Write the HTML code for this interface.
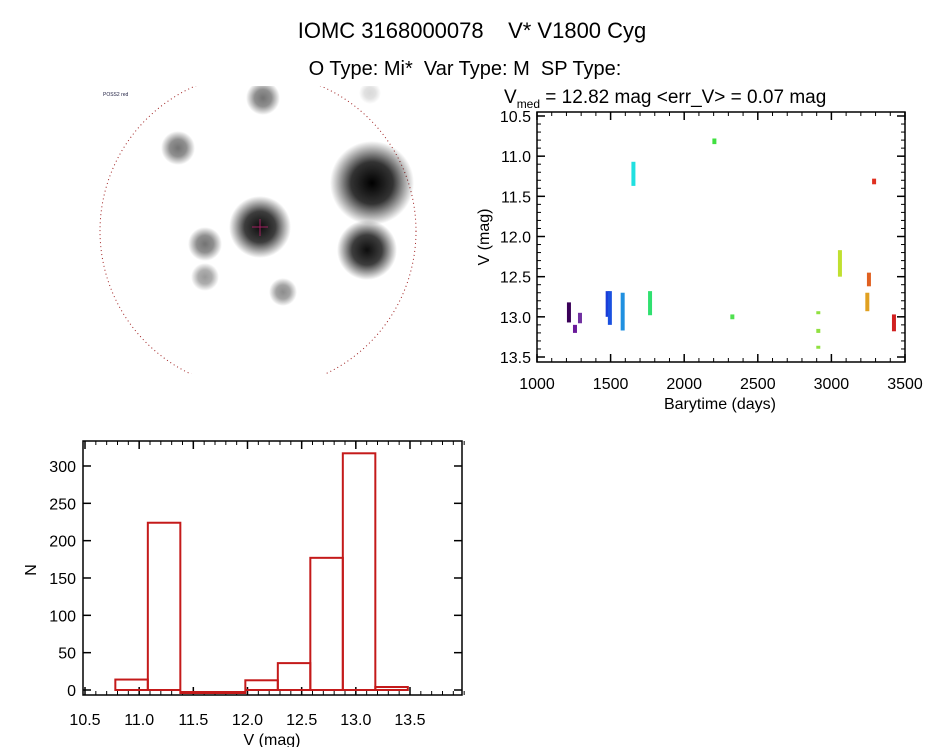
<!DOCTYPE html>
<html><head><meta charset="utf-8"><style>
html,body{margin:0;padding:0;background:#fff;}
svg{display:block;font-family:"Liberation Sans",sans-serif;}
</style></head><body>
<svg id="root" width="944" height="747" viewBox="0 0 944 747">
<defs>
<radialGradient id="blob"><stop offset="0" stop-color="#000" stop-opacity="1"/><stop offset="0.5" stop-color="#000" stop-opacity="0.8"/><stop offset="1" stop-color="#000" stop-opacity="0"/></radialGradient>
<clipPath id="imgclip"><rect x="98" y="86" width="320" height="288"/></clipPath>
</defs>
<text x="472" y="38" font-size="22" text-anchor="middle" xml:space="preserve">IOMC 3168000078    V* V1800 Cyg</text>
<text x="465" y="75" font-size="20" text-anchor="middle" xml:space="preserve">O Type: Mi*  Var Type: M  SP Type:</text>

<g id="image" clip-path="url(#imgclip)">
<circle cx="258" cy="231" r="158" fill="none" stroke="#a02020" stroke-width="1" stroke-dasharray="1 3"/>
</g>
<text x="103" y="96" font-size="5" fill="#224">POSS2 red</text>

<g id="lc"></g>
<g id="hist"></g>
</svg>
<script>
// --- sky image stars ---
const starX=[263,178,372,260,367,205,205,283,370];
const starY=[98,148,183,227,250,244,277,292,93];
const starR=[17,17,42,31,30,17,14,14,11];
const starA=[0.55,0.55,1,0.95,0.95,0.55,0.4,0.45,0.15];
const NS="http://www.w3.org/2000/svg";
function mk(t,a,p){const e=document.createElementNS(NS,t);for(const k in a)e.setAttribute(k,a[k]);p.appendChild(e);return e;}
const img=document.getElementById('image');
for(let i=0;i<starX.length;i++){
 const c=mk('circle',{cx:starX[i],cy:starY[i],r:starR[i],fill:'url(#blob)','fill-opacity':starA[i]},img);
 
 
}
mk('line',{x1:252,y1:227,x2:268,y2:227,stroke:'#a02060','stroke-width':1},img);
mk('line',{x1:260,y1:219,x2:260,y2:236,stroke:'#a02060','stroke-width':1},img);

// --- light curve data ---
const lcT=[1217,1258,1292,1480,1495,1582,1655,1768,2205,2327,2911,2911,2911,3058,3255,3244,3290,3425];
const lcTop=[12.82,13.1,12.95,12.68,12.68,12.7,11.07,12.68,10.78,12.97,12.93,13.15,13.36,12.17,12.45,12.7,11.28,12.97];
const lcBot=[13.07,13.2,13.08,13.0,13.1,13.17,11.37,12.98,10.85,13.03,12.95,13.2,13.39,12.5,12.62,12.93,11.35,13.18];
const lcColor=['#3a0058','#6a1a9a','#7030a0','#1a3cd8','#1a50e0','#2090e0','#20e0e0','#30e070','#40e040','#50e050','#90e040','#90e040','#90e040','#c0e030','#e06020','#e0a020','#e03020','#d02020'];
const xTicksLC=[1000,1500,2000,2500,3000,3500];
const yTicksLC=[10.5,11.0,11.5,12.0,12.5,13.0,13.5];
const lcX=t=>537+(t-1000)/2500*368;
const lcY=v=>116+(v-10.5)/3*241;
const lc=document.getElementById('lc');
mk('rect',{x:537,y:112,width:368,height:250,fill:'none',stroke:'#000','stroke-width':1.5},lc);
for(const t of xTicksLC){
 mk('line',{x1:lcX(t),y1:362,x2:lcX(t),y2:354,stroke:'#000','stroke-width':1.5},lc);
 mk('line',{x1:lcX(t),y1:112,x2:lcX(t),y2:120,stroke:'#000','stroke-width':1.5},lc);
 const tx=mk('text',{x:lcX(t),y:389,'font-size':16,'text-anchor':'middle'},lc);tx.textContent=t;
 
 
}
for(let t=1100;t<3500;t+=100){if(t%500){mk('line',{x1:lcX(t),y1:362,x2:lcX(t),y2:358,stroke:'#000'},lc);mk('line',{x1:lcX(t),y1:112,x2:lcX(t),y2:116,stroke:'#000'},lc);}}
for(const v of yTicksLC){
 mk('line',{x1:537,y1:lcY(v),x2:545,y2:lcY(v),stroke:'#000','stroke-width':1.5},lc);
 mk('line',{x1:905,y1:lcY(v),x2:897,y2:lcY(v),stroke:'#000','stroke-width':1.5},lc);
 const tx=mk('text',{x:531,y:lcY(v)+6,'font-size':16,'text-anchor':'end'},lc);tx.textContent=v.toFixed(1);
 
 
}
for(let v=10.6;v<13.5;v+=0.1){mk('line',{x1:537,y1:lcY(v),x2:541,y2:lcY(v),stroke:'#000'},lc);mk('line',{x1:905,y1:lcY(v),x2:901,y2:lcY(v),stroke:'#000'},lc);}
for(let i=0;i<lcT.length;i++){
 const r=mk('rect',{x:lcX(lcT[i])-2,y:lcY(lcTop[i]),width:4,height:Math.max(3,lcY(lcBot[i])-lcY(lcTop[i])),fill:lcColor[i]},lc);
 
 
}
let t1=mk('text',{x:720,y:409,'font-size':16,'text-anchor':'middle'},lc);t1.textContent='Barytime (days)';

let t2=mk('text',{x:0,y:0,'font-size':16,'text-anchor':'middle',transform:'translate(489,237) rotate(-90)'},lc);t2.textContent='V (mag)';

let t3=mk('text',{x:504,y:103,'font-size':19},lc);
let s1=mk('tspan',{},t3);s1.textContent='V';
let s2=mk('tspan',{'font-size':12,dy:5},t3);s2.textContent='med';
let s3=mk('tspan',{dy:-5},t3);s3.textContent=' = 12.82 mag <err_V> = 0.07 mag';


// --- histogram data ---
const binStart=[10.78,11.08,11.38,11.68,11.98,12.28,12.58,12.88,13.18];
const binCount=[14,224,0,0,13,36,177,317,4];
const binWidth=0.3;
const xTicksH=[10.5,11.0,11.5,12.0,12.5,13.0,13.5];
const yTicksH=[0,50,100,150,200,250,300];
const hX=v=>85+(v-10.5)*108.33;
const hY=n=>690-n*0.7467;
const h=document.getElementById('hist');
mk('rect',{x:83,y:441,width:379,height:254,fill:'none',stroke:'#000','stroke-width':1.5},h);
for(const v of xTicksH){
 mk('line',{x1:hX(v),y1:695,x2:hX(v),y2:687,stroke:'#000','stroke-width':1.5},h);
 mk('line',{x1:hX(v),y1:441,x2:hX(v),y2:449,stroke:'#000','stroke-width':1.5},h);
 const tx=mk('text',{x:hX(v),y:725,'font-size':16,'text-anchor':'middle'},h);tx.textContent=v.toFixed(1);
 
 
}
for(let v=10.6;v<14;v+=0.1){mk('line',{x1:hX(v),y1:695,x2:hX(v),y2:691,stroke:'#000'},h);mk('line',{x1:hX(v),y1:441,x2:hX(v),y2:445,stroke:'#000'},h);}
for(const n of yTicksH){
 mk('line',{x1:83,y1:hY(n),x2:91,y2:hY(n),stroke:'#000','stroke-width':1.5},h);
 mk('line',{x1:462,y1:hY(n),x2:454,y2:hY(n),stroke:'#000','stroke-width':1.5},h);
 const tx=mk('text',{x:76,y:hY(n)+6,'font-size':16,'text-anchor':'end'},h);tx.textContent=n;
 
 
}
for(let i=0;i<binStart.length;i++){
 const x0=hX(binStart[i]),x1=hX(binStart[i]+binWidth);
 const r=mk('rect',{x:x0,y:binCount[i]?hY(binCount[i]):692,width:x1-x0,height:binCount[i]?690-hY(binCount[i]):1,fill:'none',stroke:'#c41a1a','stroke-width':2},h);
 
 
}
let t4=mk('text',{x:272,y:745,'font-size':16,'text-anchor':'middle'},h);t4.textContent='V (mag)';

let t5=mk('text',{x:0,y:0,'font-size':16,'text-anchor':'middle',transform:'translate(36,570) rotate(-90)'},h);t5.textContent='N';

</script>
</body></html>
